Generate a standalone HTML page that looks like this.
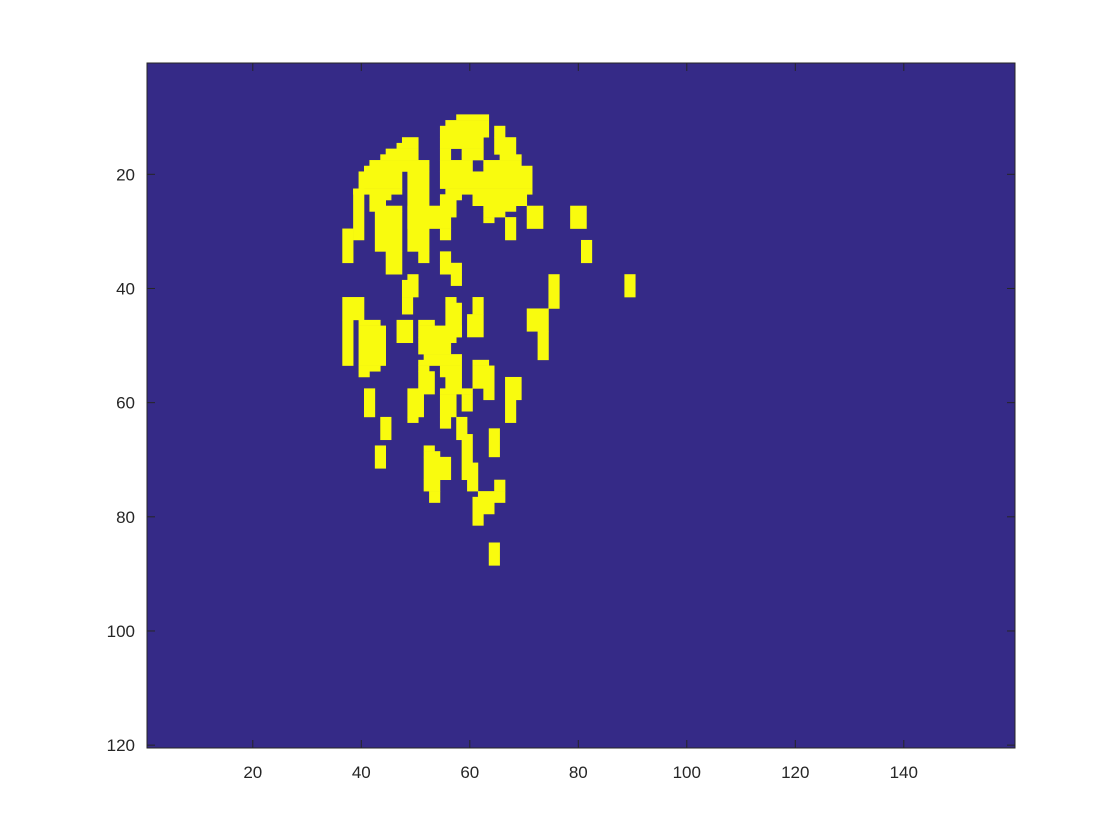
<!DOCTYPE html>
<html><head><meta charset="utf-8"><style>
html,body{margin:0;padding:0;background:#fff;}
svg{display:block;}
text{font-family:"Liberation Sans",sans-serif;font-size:17px;fill:#262626;}
</style></head><body>
<svg id="chart" width="1120" height="840">
<rect x="0" y="0" width="1120" height="840" fill="#fff"/>
<g id="plot"></g>
<g id="axes"></g>
</svg>
<script>
// image size (columns x rows)
const nCols = 160;
const nRows = 120;
// yellow regions as cell rectangles: [colStart, colEnd, rowStart, rowEnd] inclusive
const cells = [
[58,63,10,10],[56,63,11,11],[55,63,12,13],[65,66,12,13],
[55,62,14,15],[55,56,16,17],[59,62,16,17],[65,68,14,16],[66,69,17,17],
[48,50,14,14],[47,50,15,15],[45,50,16,16],[44,50,17,17],[42,52,18,18],[41,52,19,19],
[55,60,18,19],[63,69,18,18],[63,71,19,19],
[40,47,20,22],[49,52,20,33],[55,71,20,22],
[39,47,23,23],[56,71,23,23],
[39,40,23,31],[37,38,30,35],
[42,45,24,24],[42,44,25,25],[42,47,26,26],[43,47,27,33],[45,47,34,37],
[55,58,24,24],[55,57,25,27],[49,56,26,29],
[61,70,24,25],[63,68,26,26],[63,66,27,27],[63,64,28,28],[67,68,28,31],[71,73,26,29],
[79,81,26,29],[81,82,32,35],
[55,56,30,31],[51,52,34,35],[55,56,34,35],[55,58,36,37],[57,58,38,39],[49,50,38,38],
[48,50,39,41],[48,49,42,44],
[75,76,38,43],[71,74,44,47],[73,74,48,52],[89,90,38,41],
[37,40,42,45],[37,38,46,53],
[40,43,46,46],[40,44,47,53],[40,43,54,54],[40,41,55,55],
[47,49,46,49],
[51,53,46,46],[51,58,47,48],[51,57,49,49],[51,56,50,51],[52,58,52,52],[51,58,53,53],
[51,52,54,54],[55,58,54,55],[51,53,55,58],[56,58,56,57],
[49,51,58,62],[55,60,58,58],[55,57,59,62],[59,60,59,61],
[49,50,63,63],[55,56,63,64],[58,59,63,66],
[56,57,42,42],[56,58,43,48],[61,62,42,44],[60,62,45,48],
[61,63,53,53],[61,64,54,57],[63,64,58,59],
[67,69,56,59],[67,68,60,63],
[41,42,58,62],[44,45,63,66],[43,44,68,71],
[59,60,66,73],[60,61,71,75],[64,65,65,69],
[52,53,68,68],[52,54,69,69],[52,56,70,73],[52,54,74,75],[53,54,76,77],
[65,66,74,75],[62,66,76,77],[61,64,77,79],[61,62,80,81],
[64,65,85,88]
];
// tick labels
const xTicks = [20,40,60,80,100,120,140];
const yTicks = [20,40,60,80,100,120];

const L=147, R=1015, T=63, B=748;
const NS='http://www.w3.org/2000/svg';
function sx(c){ return L + (c-0.5)*(R-L)/nCols; }
function sy(r){ return T + (r-0.5)*(B-T)/nRows; }
function mk(tag, attrs, parent){
  const e=document.createElementNS(NS,tag);
  for(const k in attrs) e.setAttribute(k,attrs[k]);
  parent.appendChild(e); return e;
}
const plot=document.getElementById('plot');
const axes=document.getElementById('axes');
const bg=mk('rect',{x:sx(0.5),y:sy(0.5),width:sx(nCols+0.5)-sx(0.5),height:sy(nRows+0.5)-sy(0.5),fill:'#352a87'},plot);


cells.forEach(function(c,i){
  const x0=sx(c[0]-0.5), x1=sx(c[1]+0.5), y0=sy(c[2]-0.5), y1=sy(c[3]+0.5);
  const r=mk('rect',{x:x0,y:y0,width:x1-x0+0.3,height:y1-y0+0.3,fill:'#f9fb0e'},plot);
  
  
});
const box=mk('rect',{x:L,y:T,width:R-L,height:B-T,fill:'none',stroke:'#262626','stroke-width':1},axes);


const tl=8;
xTicks.forEach(function(v){
  const x=sx(v);
  const t1=mk('line',{x1:x,x2:x,y1:B,y2:B-tl,stroke:'#262626','stroke-width':1},axes);
  
  
  const t2=mk('line',{x1:x,x2:x,y1:T,y2:T+tl,stroke:'#262626','stroke-width':1},axes);
  
  
  const lb=mk('text',{x:x,y:B+30,'text-anchor':'middle'},axes);
  lb.textContent=v;
  
  
});
yTicks.forEach(function(v){
  const y=sy(v);
  const t1=mk('line',{x1:L,x2:L+tl,y1:y,y2:y,stroke:'#262626','stroke-width':1},axes);
  
  
  const t2=mk('line',{x1:R,x2:R-tl,y1:y,y2:y,stroke:'#262626','stroke-width':1},axes);
  
  
  const lb=mk('text',{x:L-12,y:y+6,'text-anchor':'end'},axes);
  lb.textContent=v;
  
  
});
</script>
</body></html>
